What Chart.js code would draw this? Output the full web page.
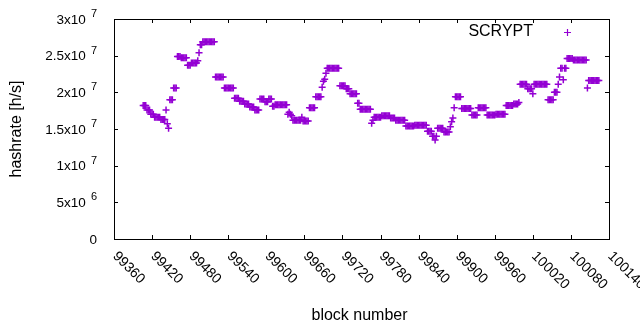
<!DOCTYPE html>
<html>
<head>
<meta charset="utf-8">
<script src="https://cdn.jsdelivr.net/npm/chart.js@4.4.1/dist/chart.umd.min.js"></script>
<style>
  html, body { margin: 0; padding: 0; background: #fff; }
  canvas { display: block; }
</style>
</head>
<body>
<canvas id="hashChart" width="640" height="330"></canvas>
<script>
// hashrate per block – gnuplot look (frame, inner ticks, rotated x labels)

const seriesLabel = "SCRYPT";
const xTitle = "block number";
const yTitle = "hashrate [h/s]";

const xTicks = [99360, 99420, 99480, 99540, 99600, 99660, 99720, 99780, 99840, 99900, 99960, 100020, 100080, 100140];
const yTicks = [0, 5e6, 1e7, 1.5e7, 2e7, 2.5e7, 3e7];
const yTickBase = ["0", "5x10", "1x10", "1.5x10", "2x10", "2.5x10", "3x10"];
const yTickExp  = ["", "6", "7", "7", "7", "7", "7"];

// one sample every 2 blocks from firstBlock, hashrate in 1e6 h/s
const firstBlock = 99406;
const blockStep = 2;
const hashrateM = [
  18.2, 18.2, 18.2, 17.6, 17.6, 17.6, 17.0, 17.0, 17.0,
  16.6, 16.6, 16.6, 16.6, 16.6, 16.3, 16.3, 16.3, 16.3,
  17.6, 15.7, 15.1, 19.0, 19.0, 19.0, 20.6, 20.6, 20.6,
  24.9, 24.9, 24.9, 24.7, 24.7, 24.7, 24.7, 24.7,
  23.7, 23.7, 23.7, 24.0, 24.0, 24.0, 24.0, 24.0,
  24.3, 25.4, 26.5, 26.5,
  26.9, 26.9, 26.9, 26.9, 26.9, 26.9, 26.9, 26.9, 26.9, 26.9,
  22.1, 22.1, 22.1, 22.1, 22.1, 22.1, 22.1,
  20.6, 20.6, 20.6, 20.6, 20.6, 20.6, 20.6, 20.6,
  19.2, 19.2, 19.2, 19.2, 18.8, 18.8, 18.8, 18.8,
  18.4, 18.4, 18.4, 18.4, 18.0, 18.0, 18.0, 18.0,
  17.6, 17.6, 17.6, 17.6,
  19.1, 19.1, 19.1, 19.1, 18.7, 18.7, 18.7, 19.1, 19.1, 19.1,
  18.1, 18.1, 18.3, 18.3, 18.3, 18.3, 18.3, 18.3, 18.3, 18.3, 18.3, 18.3,
  17.0, 17.3, 17.0, 16.8,
  16.2, 16.2, 16.2, 16.2, 16.2, 16.2, 16.2,
  16.6, 16.1, 16.1, 16.1, 16.1, 16.1,
  17.9, 17.9, 17.9, 17.9, 17.9,
  19.4, 19.4, 19.4, 19.4, 19.4,
  20.7, 21.5, 21.8, 22.6,
  23.3, 23.3, 23.3, 23.3, 23.3, 23.3, 23.3, 23.3, 23.3, 23.3,
  20.9, 20.9, 20.9, 20.9, 20.9, 20.5, 20.5, 20.5,
  19.8, 19.8, 19.8, 19.8, 19.8, 19.8, 18.5, 18.5,
  17.7, 17.7, 17.7, 17.7, 17.7, 17.7, 17.7, 17.7, 17.7,
  15.8, 16.2,
  16.6, 16.6, 16.6, 16.6, 16.6, 16.6,
  16.8, 16.8, 16.8, 16.8, 16.8, 16.8, 16.8,
  16.5, 16.5, 16.5, 16.5,
  16.2, 16.2, 16.2, 16.2, 16.2, 16.2, 16.2, 16.2,
  15.4, 15.4, 15.4, 15.4, 15.4, 15.4, 15.4,
  15.5, 15.5, 15.5, 15.5, 15.5, 15.5, 15.5, 15.5, 15.5, 15.5,
  14.7, 14.7, 14.7, 14.7, 14.0, 14.0, 13.5, 14.0,
  15.1, 15.1, 15.1, 15.1, 15.1, 14.6, 14.6, 14.6, 14.6, 14.6,
  15.3, 16.0, 16.5, 17.9,
  19.4, 19.4, 19.4, 19.4, 19.4,
  17.8, 17.8, 17.8, 17.8, 17.8, 17.8, 17.8, 17.8,
  16.9, 16.9, 16.9, 16.9, 16.9,
  17.9, 17.9, 17.9, 17.9, 17.9, 17.9, 17.9,
  16.9, 16.9, 16.9, 16.9, 16.9, 16.9, 16.9,
  17.0, 17.0, 17.0, 17.0, 17.0, 17.0, 17.0, 17.0,
  18.2, 18.2, 18.2, 18.2, 18.2, 18.2, 18.4, 18.4, 18.4, 18.4, 18.6,
  21.1, 21.1, 21.1, 21.1, 21.1, 21.1, 20.5, 20.5, 20.5, 20.5, 19.8,
  21.1, 21.1, 21.1, 21.1, 21.1, 21.1, 21.1, 21.1, 21.1, 21.1, 21.1,
  19.0, 19.0, 19.0, 19.0, 19.0, 20.0, 20.0, 20.0, 21.1, 22.1,
  23.3, 23.3, 21.7, 23.3, 23.3,
  24.6, 24.6, 24.6, 24.6, 24.6,
  24.4, 24.4, 24.4, 24.4, 24.4, 24.4, 24.4, 24.4, 24.4, 24.4, 24.4,
  20.6,
  21.6, 21.6, 21.6, 21.6, 21.6, 21.6, 21.6, 21.6, 21.6
];

const pointColor = "#9400d3";
const tickFont  = "14px 'Liberation Sans', Arial, sans-serif";
const yTickFont = "13.5px 'Liberation Sans', Arial, sans-serif";
const expFont   = "11px 'Liberation Sans', Arial, sans-serif";
const labelFont = "16px 'Liberation Sans', Arial, sans-serif";

const points = hashrateM.map((v, i) => ({ x: firstBlock + i * blockStep, y: v * 1e6 }));

// ───── frame, inner ticks and all the text, gnuplot style ─────
const gnuplotFrame = {
  id: "gnuplotFrame",
  afterDraw(chart) {
    const { ctx, chartArea: a, scales: { x, y } } = chart;
    ctx.save();
    ctx.strokeStyle = "#000";
    ctx.lineWidth = 1;
    ctx.strokeRect(a.left + 0.5, a.top + 0.5, a.right - a.left, a.bottom - a.top);

    ctx.beginPath();
    xTicks.forEach(v => {
      const px = Math.round(x.getPixelForValue(v)) + 0.5;
      ctx.moveTo(px, a.bottom); ctx.lineTo(px, a.bottom - 4);
      ctx.moveTo(px, a.top);    ctx.lineTo(px, a.top + 4);
    });
    yTicks.forEach(v => {
      const py = Math.round(y.getPixelForValue(v)) + 0.5;
      ctx.moveTo(a.left, py);  ctx.lineTo(a.left + 4, py);
      ctx.moveTo(a.right, py); ctx.lineTo(a.right - 4, py);
    });
    ctx.stroke();

    ctx.fillStyle = "#000";
    ctx.textBaseline = "middle";

    // y tick labels with raised exponent
    yTicks.forEach((v, i) => {
      const py = y.getPixelForValue(v) + 1;
      let right = a.left - 17;
      ctx.textAlign = "right";
      if (yTickExp[i]) {
        ctx.font = expFont;
        ctx.fillText(yTickExp[i], right, py - 6);
        right -= ctx.measureText(yTickExp[i]).width + 5;
      }
      ctx.font = yTickFont;
      ctx.fillText(yTickBase[i], right, py);
    });

    // x tick labels, turned 45° clockwise
    ctx.font = tickFont;
    ctx.textAlign = "left";
    xTicks.forEach(v => {
      const px = x.getPixelForValue(v);
      ctx.save();
      ctx.translate(px + 1, a.bottom + 15);
      ctx.rotate(Math.PI / 4);
      ctx.fillText(String(v), 0, 0);
      ctx.restore();
    });

    // axis titles
    ctx.font = labelFont;
    ctx.textAlign = "center";
    ctx.fillText(xTitle, (a.left + a.right) / 2 - 2, 316);
    ctx.save();
    ctx.translate(17, 129);
    ctx.rotate(-Math.PI / 2);
    ctx.fillText(yTitle, 0, 0);
    ctx.restore();

    // key, top right
    ctx.textAlign = "right";
    ctx.fillText(seriesLabel, 533, 32);
    ctx.strokeStyle = pointColor;
    ctx.lineWidth = 1.2;
    ctx.beginPath();
    ctx.moveTo(564, 32.5); ctx.lineTo(571, 32.5);
    ctx.moveTo(567.5, 29); ctx.lineTo(567.5, 36);
    ctx.stroke();
    ctx.restore();
  }
};

new Chart(document.getElementById("hashChart").getContext("2d"), {
  type: "scatter",
  data: {
    datasets: [{
      label: seriesLabel,
      data: points,
      pointStyle: "cross",
      pointRadius: 3.5,
      pointHoverRadius: 3.5,
      pointBorderWidth: 1.5,
      borderColor: pointColor,
      backgroundColor: pointColor
    }]
  },
  options: {
    responsive: false,
    animation: false,
    events: [],
    layout: { padding: { top: 19, right: 31, left: 0, bottom: 0 } },
    plugins: { legend: { display: false }, tooltip: { enabled: false } },
    scales: {
      x: {
        type: "linear", min: 99360, max: 100140,
        afterBuildTicks: s => { s.ticks = xTicks.map(v => ({ value: v })); },
        ticks: { display: false },
        grid: { display: false },
        border: { display: false },
        afterFit: s => { s.height = 91; }
      },
      y: {
        type: "linear", min: 0, max: 3e7,
        afterBuildTicks: s => { s.ticks = yTicks.map(v => ({ value: v })); },
        ticks: { display: false },
        grid: { display: false },
        border: { display: false },
        afterFit: s => { s.width = 114; }
      }
    }
  },
  plugins: [gnuplotFrame]
});
</script>
</body>
</html>
